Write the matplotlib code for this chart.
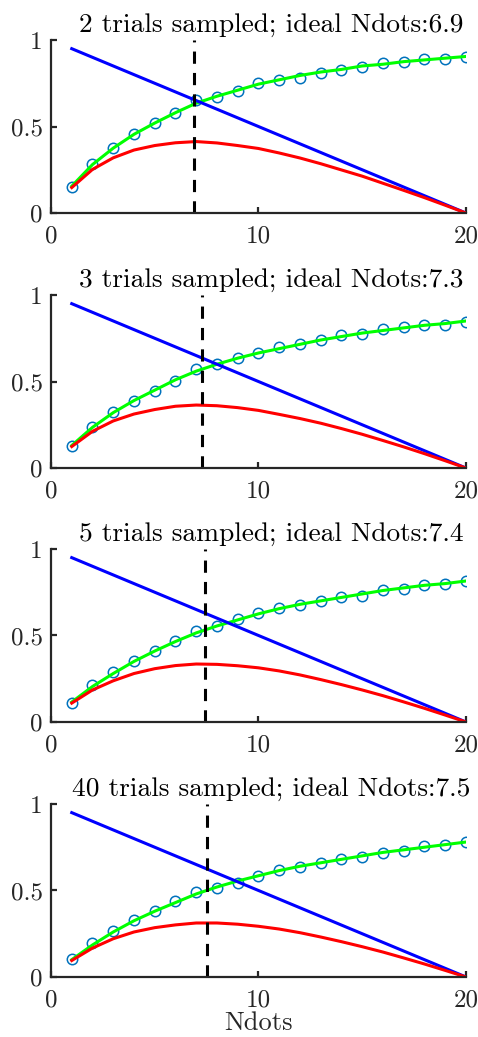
import numpy as np
import matplotlib.pyplot as plt

plt.rcParams['font.family'] = ['cmr10', 'DejaVu Serif']
plt.rcParams['mathtext.fontset'] = 'cm'
plt.rcParams['axes.formatter.use_mathtext'] = True

ndots = np.arange(1, 21)
n_trials = [2, 3, 5, 40]
ideal_ndots = [6.9, 7.3, 7.4, 7.5]

# chance of a dot being shown (straight line)
p_line_x = [1, 20]
p_line_y = [0.95, 0.0]

# sampled accuracy (circles)
acc_sampled = [
    [0.152, 0.283, 0.378, 0.457, 0.518, 0.580, 0.653, 0.672, 0.707, 0.750,
     0.769, 0.782, 0.811, 0.827, 0.842, 0.865, 0.873, 0.890, 0.888, 0.903],
    [0.127, 0.239, 0.322, 0.389, 0.447, 0.505, 0.570, 0.601, 0.634, 0.667,
     0.701, 0.715, 0.740, 0.769, 0.775, 0.802, 0.813, 0.828, 0.828, 0.846],
    [0.112, 0.214, 0.287, 0.353, 0.412, 0.468, 0.528, 0.555, 0.594, 0.628,
     0.661, 0.676, 0.701, 0.724, 0.728, 0.763, 0.770, 0.792, 0.798, 0.815],
    [0.103, 0.197, 0.266, 0.328, 0.381, 0.437, 0.490, 0.517, 0.544, 0.586,
     0.621, 0.638, 0.659, 0.682, 0.691, 0.717, 0.730, 0.755, 0.763, 0.782],
]

# fitted accuracy (green line)
acc_fit = [
    [0.155, 0.280, 0.375, 0.455, 0.520, 0.580, 0.635, 0.675, 0.710, 0.745,
     0.770, 0.795, 0.815, 0.830, 0.850, 0.860, 0.875, 0.885, 0.895, 0.905],
    [0.130, 0.235, 0.320, 0.390, 0.450, 0.510, 0.560, 0.600, 0.635, 0.665,
     0.690, 0.715, 0.740, 0.760, 0.780, 0.795, 0.810, 0.825, 0.835, 0.850],
    [0.115, 0.205, 0.280, 0.350, 0.410, 0.465, 0.515, 0.555, 0.590, 0.625,
     0.655, 0.680, 0.700, 0.720, 0.740, 0.760, 0.775, 0.790, 0.800, 0.815],
    [0.100, 0.185, 0.260, 0.325, 0.380, 0.430, 0.480, 0.520, 0.555, 0.585,
     0.615, 0.640, 0.660, 0.680, 0.700, 0.720, 0.735, 0.750, 0.765, 0.780],
]

# expected payoff (red line)
payoff = [
    [0.147, 0.252, 0.319, 0.364, 0.390, 0.406, 0.413, 0.405, 0.390, 0.373,
     0.347, 0.318, 0.285, 0.249, 0.213, 0.172, 0.131, 0.089, 0.045, 0.0],
    [0.124, 0.212, 0.272, 0.312, 0.338, 0.357, 0.364, 0.360, 0.349, 0.333,
     0.310, 0.286, 0.259, 0.228, 0.195, 0.159, 0.122, 0.083, 0.042, 0.0],
    [0.109, 0.185, 0.238, 0.280, 0.308, 0.326, 0.335, 0.333, 0.325, 0.313,
     0.295, 0.272, 0.245, 0.216, 0.185, 0.152, 0.116, 0.079, 0.040, 0.0],
    [0.095, 0.167, 0.221, 0.260, 0.285, 0.301, 0.312, 0.312, 0.305, 0.293,
     0.277, 0.256, 0.231, 0.204, 0.175, 0.144, 0.110, 0.075, 0.038, 0.0],
]

fig = plt.figure(figsize=(4.78, 10.37), dpi=100)
bottoms = [0.7946, 0.5487, 0.3038, 0.0579]

for i in range(4):
    ax = fig.add_axes([0.1067, bottoms[i], 0.868, 0.1668])
    ax.plot(ndots, acc_sampled[i], 'o', mfc='none', mec=(0, 0.447, 0.741),
            ms=7.5, mew=1.1)
    ax.plot(ndots, acc_fit[i], color=(0, 1, 0), lw=2.2)
    ax.plot(p_line_x, p_line_y, color=(0, 0, 1), lw=2.2)
    ax.plot(ndots, payoff[i], color=(1, 0, 0), lw=2.2)
    ax.plot([ideal_ndots[i], ideal_ndots[i]], [0, 1], 'k--', lw=2.2,
            dashes=(4, 3))
    ax.set_xlim(0, 20)
    ax.set_ylim(0, 1)
    ax.set_xticks([0, 10, 20])
    ax.set_xticklabels(['0', '10', '20'])
    ax.set_yticks([0, 0.5, 1])
    ax.set_yticklabels(['0', '0.5', '1'])
    ax.spines['top'].set_visible(False)
    ax.spines['right'].set_visible(False)
    for s in ['left', 'bottom']:
        ax.spines[s].set_linewidth(1.6)
        ax.spines[s].set_color('#262626')
    ax.tick_params(direction='in', length=4, width=1.6, colors='#262626',
                   labelsize=18)
    ax.tick_params(axis='x', pad=9)
    ax.tick_params(axis='y', pad=6)
    ax.set_title('%d trials sampled; ideal Ndots:%.1f' % (n_trials[i], ideal_ndots[i]),
                 fontsize=19.7, pad=6, x=0.53)
    if i == 3:
        ax.set_xlabel('Ndots', fontsize=19, color='#262626', labelpad=0)

fig.savefig('out.png', dpi=100)
